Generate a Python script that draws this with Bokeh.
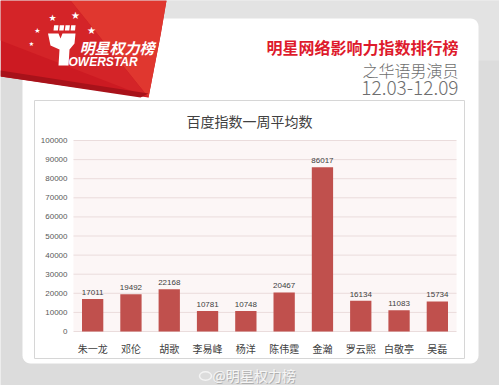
import numpy as np
from bokeh.plotting import figure
from bokeh.models import (Range1d, FixedTicker, NumeralTickFormatter, LinearAxis,
                          ColumnDataSource, LinearScale)
from bokeh.core.properties import value
from bokeh.embed import file_html
from bokeh.resources import INLINE

# ---------------- data ----------------
actors = ["朱一龙", "邓伦", "胡歌", "李易峰", "杨洋", "陈伟霆", "金瀚", "罗云熙", "白敬亭", "吴磊"]
baidu_avg = [17011, 19492, 22168, 10781, 10748, 20467, 86017, 16134, 11083, 15734]
y_ticks = [0, 10000, 20000, 30000, 40000, 50000, 60000, 70000, 80000, 90000, 100000]
chart_title = "百度指数一周平均数"
header_title = "明星网络影响力指数排行榜"
header_sub = "之华语男演员"
header_dates = "12.03-12.09"
brand_cn = "明星权力榜"
brand_en = "OWERSTAR"
watermark = "@明星权力榜"

# ---------------- layout ----------------
W, H = 499, 385
FL, FR, FT, FB = 73, 456, 140, 331   # chart plot area in page pixels

CJK = "Noto Sans CJK SC"
CJK_LIGHT = "Noto Sans CJK SC Light, Noto Sans CJK SC"
LAT = "Liberation Sans"

n = len(actors)
idx = list(range(n))

# main ranges = page pixel coordinates (used for decorations)
p = figure(width=W, height=H, x_range=Range1d(0, W), y_range=Range1d(H, 0),
           x_axis_location=None, y_axis_location=None,
           output_backend="svg", toolbar_location=None, tools="", min_border=0,
           background_fill_color="#dcdcdc", border_fill_color="#dcdcdc",
           outline_line_color=None)
p.xgrid.visible = False
p.ygrid.visible = False

# chart scales: categories and values mapped onto the plot area
cw = (FR - FL) / n
vpp = y_ticks[-1] / (FB - FT)
p.extra_x_ranges = {"cat": Range1d(-0.5 - FL / cw, -0.5 + (W - FL) / cw)}
p.extra_y_ranges = {"val": Range1d((FB - H) * vpp, FB * vpp)}
p.extra_x_scales = {"cat": LinearScale()}
p.extra_y_scales = {"val": LinearScale()}


def shape(xs, ys, color, alpha=1.0, line=None):
    p.patch([float(v) for v in xs], [float(v) for v in ys], fill_color=color,
            fill_alpha=alpha, line_color=line, level="image")


def label(x, y, text, size, color, font=CJK, align="left", baseline="middle", style="normal"):
    p.text(x=[x], y=[y], text=[text], text_font=value(font), text_font_size=f"{size}px",
           text_color=color, text_align=align, text_baseline=baseline,
           text_font_style=style)


# ---- subtle lighter band at the top of the page ----
shape([0, W, W, 0], [0, 0, 60, 60], "#e3e3e3")

# ---- white rounded panel ----
X0, X1, Y0, Y1, R = 22, 478, 18, 363, 8
th = np.linspace(0, 0.5 * np.pi, 8)
px = (list(X1 - R + R * np.sin(th)) + list(X1 - R + R * np.cos(th)) +
      list(X0 + R - R * np.sin(th)) + list(X0 + R - R * np.cos(th)))
py = (list(Y0 + R - R * np.cos(th)) + list(Y1 - R + R * np.sin(th)) +
      list(Y1 - R + R * np.cos(th)) + list(Y0 + R - R * np.sin(th)))
shape(px, py, "white")

# ---- red banner ----
shape([0, 166, 160, 148, 0], [0, 0, 35, 97, 76], "#cc1a22")
shape([70, 166, 160, 148], [0, 0, 35, 97], "#e0372f")
shape([0, 70, 148, 0], [0, 0, 97, 40], "#d42428")
shape([0, 148, 140, 0], [70, 93, 97, 76], "#a8121a")

# ---- logo ----
for fx in (53, 58.7, 64.4, 70.1):
    shape([fx + 0.6, fx + 5, fx + 4.4, fx], [24.7, 24.7, 30, 30], "white")
shape([47.5, 58, 60, 62, 75, 74, 69, 68, 58, 59, 50],
      [33, 33, 38, 33, 33, 43, 49, 65, 65, 49, 45], "white")

# ---- chart panel frame and plot-area background ----
shape([34, 464, 464, 34], [100, 100, 358, 358], "white", line="#d6d6d6")
p.quad(left=[-0.5], right=[n - 0.5], bottom=[y_ticks[0]], top=[y_ticks[-1]],
       x_range_name="cat", y_range_name="val", fill_color="#fcf6f6",
       line_color=None, level="image")

# ---- texts ----
for sx, sy, ss in [(52, 17, 9), (75, 15, 10), (37, 30, 7), (91, 30, 10), (31, 43, 6)]:
    label(sx, sy, "★", ss, "white", font="DejaVu Sans", align="center")
label(79, 47, brand_cn, 15, "white", style="bold italic")
label(68, 61, brand_en, 12, "white", font=LAT, style="bold italic")
label(458, 46, header_title, 16, "#de1a2c", align="right", style="bold")
label(458, 69, header_sub, 16, "#6e6e6e", font=CJK_LIGHT, align="right")
label(458, 87, header_dates, 19, "#6e6e6e", font=CJK_LIGHT, align="right")
label(249, 120, chart_title, 14, "#404040", align="center")

# ---- watermark ----
p.ellipse(x=[205], y=[375.5], width=12, height=8.5, fill_alpha=0, line_color="#f4f4f4",
          line_width=1.5)
label(213, 375, watermark, 14, "#b0b0b0")
label(212, 374, watermark, 14, "#f6f6f6")

# ---------------- gridlines, bars, value labels ----------------
p.segment(x0=[-0.5] * len(y_ticks), x1=[n - 0.5] * len(y_ticks), y0=y_ticks, y1=y_ticks,
          x_range_name="cat", y_range_name="val", line_color="#eadcdc", line_width=1)

src = ColumnDataSource(dict(pos=idx, avg=baidu_avg, lbl=[str(v) for v in baidu_avg]))
p.vbar(x="pos", top="avg", bottom=0, width=0.556, source=src,
       x_range_name="cat", y_range_name="val", fill_color="#c0504d", line_color=None)
p.text(x="pos", y="avg", text="lbl", source=src, x_range_name="cat", y_range_name="val",
       text_align="center", text_baseline="bottom", y_offset=-4, text_font_size="8px",
       text_color="#404040", text_font=value(LAT))

# ---------------- axes (fixed inside the page) ----------------
yax = LinearAxis(x_range_name="cat", y_range_name="val", fixed_location=-0.5,
                 ticker=FixedTicker(ticks=y_ticks), formatter=NumeralTickFormatter(format="0"),
                 axis_line_color=None, major_tick_line_color=None,
                 minor_tick_line_color=None, major_tick_out=0, minor_tick_out=0,
                 major_label_text_font_size="8px", major_label_text_color="#595959",
                 major_label_text_font=LAT, major_label_standoff=6)
p.add_layout(yax, "left")

xax = LinearAxis(x_range_name="cat", y_range_name="val", fixed_location=0,
                 ticker=FixedTicker(ticks=idx),
                 major_label_overrides={i: a for i, a in zip(idx, actors)},
                 axis_line_color=None, major_tick_line_color=None,
                 minor_tick_line_color=None, major_tick_out=0, minor_tick_out=0,
                 major_label_text_font_size="10px", major_label_text_color="#404040",
                 major_label_text_font=CJK, major_label_standoff=9)
p.add_layout(xax, "below")

open("out.html", "w").write(file_html(p, INLINE))
